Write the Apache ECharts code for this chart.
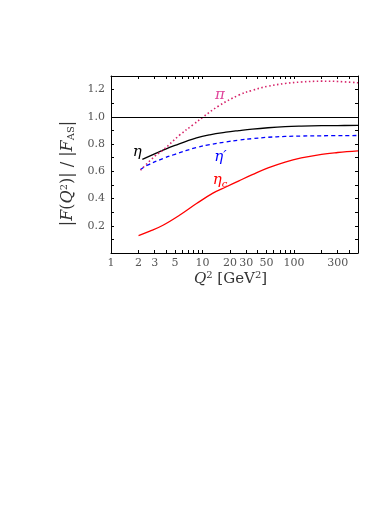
<!DOCTYPE html>
<html>
<head>
<meta charset="utf-8">
<script src="https://cdn.jsdelivr.net/npm/echarts@6/dist/echarts.min.js"></script>
<style>
html, body { margin: 0; padding: 0; background: #fff; }
#chart { width: 374px; height: 528px; }
</style>
</head>
<body>
<div id="chart"></div>
<script>
// Q^2 range and ticks (log scale, drawn on log10 values)
const xMin = 1
const xMax = 500
const xLabelVals = [1, 2, 3, 5, 10, 20, 30, 50, 100, 300]
const xTickVals = [1, 2, 3, 4, 5, 6, 7, 8, 9, 10, 20, 30, 40, 50, 60, 70, 80, 90, 100, 200, 300, 400, 500]

// eta (black, solid)
const etaQ2 = [2.2, 3.0, 3.7, 5, 8.6, 12, 18, 25, 35, 52, 80, 120, 200, 300, 500]
const etaF = [0.687, 0.728, 0.755, 0.79, 0.845, 0.868, 0.887, 0.899, 0.91, 0.92, 0.928, 0.932, 0.935, 0.936, 0.937]

// eta' (blue, dashed)
const etapQ2 = [2.1, 2.5, 3.7, 5, 8.6, 12, 18, 25, 35, 52, 80, 120, 200, 500]
const etapF = [0.613, 0.645, 0.694, 0.725, 0.775, 0.796, 0.816, 0.829, 0.84, 0.85, 0.856, 0.859, 0.861, 0.863]

// eta_c (red, solid)
const etacQ2 = [2.0, 2.66, 3.7, 5.6, 8.6, 13, 18, 25, 35, 52, 80, 120, 200, 300, 500]
const etacF = [0.128, 0.16, 0.204, 0.277, 0.363, 0.44, 0.485, 0.53, 0.575, 0.625, 0.668, 0.698, 0.725, 0.738, 0.75]

// pi (magenta, dotted)
const piQ2 = [2.1, 3.0, 3.7, 5.6, 8, 10.2, 15, 25, 35, 52, 80, 120, 200, 300, 500]
const piF = [0.608, 0.71, 0.755, 0.865, 0.945, 1.0, 1.08, 1.16, 1.195, 1.225, 1.245, 1.256, 1.262, 1.26, 1.25]

// curve labels: [Q^2, F]
const piLabelPos = [15.5, 1.16]
const etaLabelPos = [1.94, 0.743]
const etapLabelPos = [15.7, 0.706]
const etacLabelPos = [15.5, 0.535]

const lg = Math.log10
function pairs(xs, ys) {
    return xs.map(function (x, i) { return [lg(x), ys[i]] })
}

const serif = 'DejaVu Serif'
const tickColor = '#555'

function curveLabel(pos, text, color) {
    return {
        symbol: 'circle',
        symbolSize: 1,
        silent: true,
        itemStyle: { color: 'rgba(0,0,0,0)' },
        data: [{
            coord: [lg(pos[0]), pos[1]],
            label: {
                show: true,
                position: 'inside',
                formatter: text,
                color: color,
                fontFamily: serif,
                fontStyle: 'italic',
                fontSize: 15,
                rich: {
                    s: { fontFamily: serif, fontStyle: 'italic', fontSize: 10, color: color, padding: [8, 0, 0, 0] },
                    p: { fontFamily: serif, fontSize: 15, color: color }
                }
            }
        }]
    }
}

const xCommon = {
    type: 'value',
    min: lg(xMin),
    max: lg(xMax),
    axisLine: { show: true, onZero: false, lineStyle: { color: '#000', width: 1 } },
    splitLine: { show: false },
    axisTick: {
        show: true,
        inside: true,
        length: 3,
        customValues: xTickVals.map(lg),
        lineStyle: { color: '#000', width: 1 }
    }
}

const yCommon = {
    type: 'value',
    min: 0,
    max: 1.3,
    interval: 0.1,
    axisLine: { show: true, onZero: false, lineStyle: { color: '#000', width: 1 } },
    splitLine: { show: false },
    axisTick: { show: true, inside: true, length: 3, lineStyle: { color: '#000', width: 1 } }
}

var myChart = echarts.init(document.getElementById('chart'))

var option = {
    animation: false,
    backgroundColor: '#fff',
    grid: { left: 111, right: 16, top: 76, bottom: 275 },
    xAxis: [
        Object.assign({}, xCommon, {
            position: 'bottom',
            name: '{i|Q}{sup|2} [GeV{sup|2}]',
            nameLocation: 'middle',
            nameGap: 17,
            nameTextStyle: {
                fontFamily: serif,
                fontSize: 15,
                color: '#333',
                padding: [0, 8, 0, 0],
                rich: {
                    i: { fontFamily: serif, fontStyle: 'italic', fontSize: 15, color: '#333' },
                    sup: { fontFamily: serif, fontSize: 10, color: '#333', padding: [0, 0, 8, 0] }
                }
            },
            axisLabel: {
                show: true,
                margin: 5,
                customValues: xLabelVals.map(lg),
                fontFamily: serif,
                fontSize: 11,
                color: tickColor,
                formatter: function (v) { return String(Math.round(Math.pow(10, v))) }
            }
        }),
        Object.assign({}, xCommon, {
            position: 'top',
            axisLabel: { show: false }
        })
    ],
    yAxis: [
        Object.assign({}, yCommon, {
            position: 'left',
            name: '|{i|F}({i|Q}{sup|2})| / |{i|F}{sub|AS}|',
            nameLocation: 'middle',
            nameGap: 31,
            nameTextStyle: {
                fontFamily: serif,
                fontSize: 16,
                color: '#333',
                padding: [0, 18, 0, 0],
                rich: {
                    i: { fontFamily: serif, fontStyle: 'italic', fontSize: 16, color: '#333' },
                    sup: { fontFamily: serif, fontSize: 10, color: '#333', padding: [0, 0, 8, 0] },
                    sub: { fontFamily: serif, fontSize: 10, color: '#333', padding: [7, 0, 0, 0] }
                }
            },
            axisLabel: {
                show: true,
                margin: 6,
                fontFamily: serif,
                fontSize: 11,
                color: tickColor,
                formatter: function (v) {
                    var k = Math.round(v * 10)
                    return (k > 0 && k % 2 === 0 && k <= 12) ? v.toFixed(1) : ''
                }
            }
        }),
        Object.assign({}, yCommon, {
            position: 'right',
            axisLabel: { show: false }
        })
    ],
    series: [
        {
            name: 'eta',
            type: 'line',
            smooth: 0.4,
            showSymbol: false,
            data: pairs(etaQ2, etaF),
            lineStyle: { color: '#000', width: 1.3 },
            markLine: {
                symbol: 'none',
                silent: true,
                label: { show: false },
                lineStyle: { color: '#000', width: 1, type: 'solid' },
                data: [{ yAxis: 1 }]
            },
            markPoint: curveLabel(etaLabelPos, 'η', '#000')
        },
        {
            name: "eta'",
            type: 'line',
            smooth: 0.4,
            showSymbol: false,
            data: pairs(etapQ2, etapF),
            lineStyle: { color: '#0000ff', width: 1.3, type: [4, 3] },
            markPoint: curveLabel(etapLabelPos, 'η{p|′}', '#0000ff')
        },
        {
            name: 'eta_c',
            type: 'line',
            smooth: 0.4,
            showSymbol: false,
            data: pairs(etacQ2, etacF),
            lineStyle: { color: '#ff0000', width: 1.3 },
            markPoint: curveLabel(etacLabelPos, 'η{s|c}', '#ff0000')
        },
        {
            name: 'pi',
            type: 'line',
            smooth: 0.4,
            showSymbol: false,
            data: pairs(piQ2, piF),
            lineStyle: { color: '#d6246a', width: 1.6, type: [1.5, 2.5] },
            markPoint: curveLabel(piLabelPos, 'π', '#e0439a')
        }
    ]
}

myChart.setOption(option)
</script>
</body>
</html>
